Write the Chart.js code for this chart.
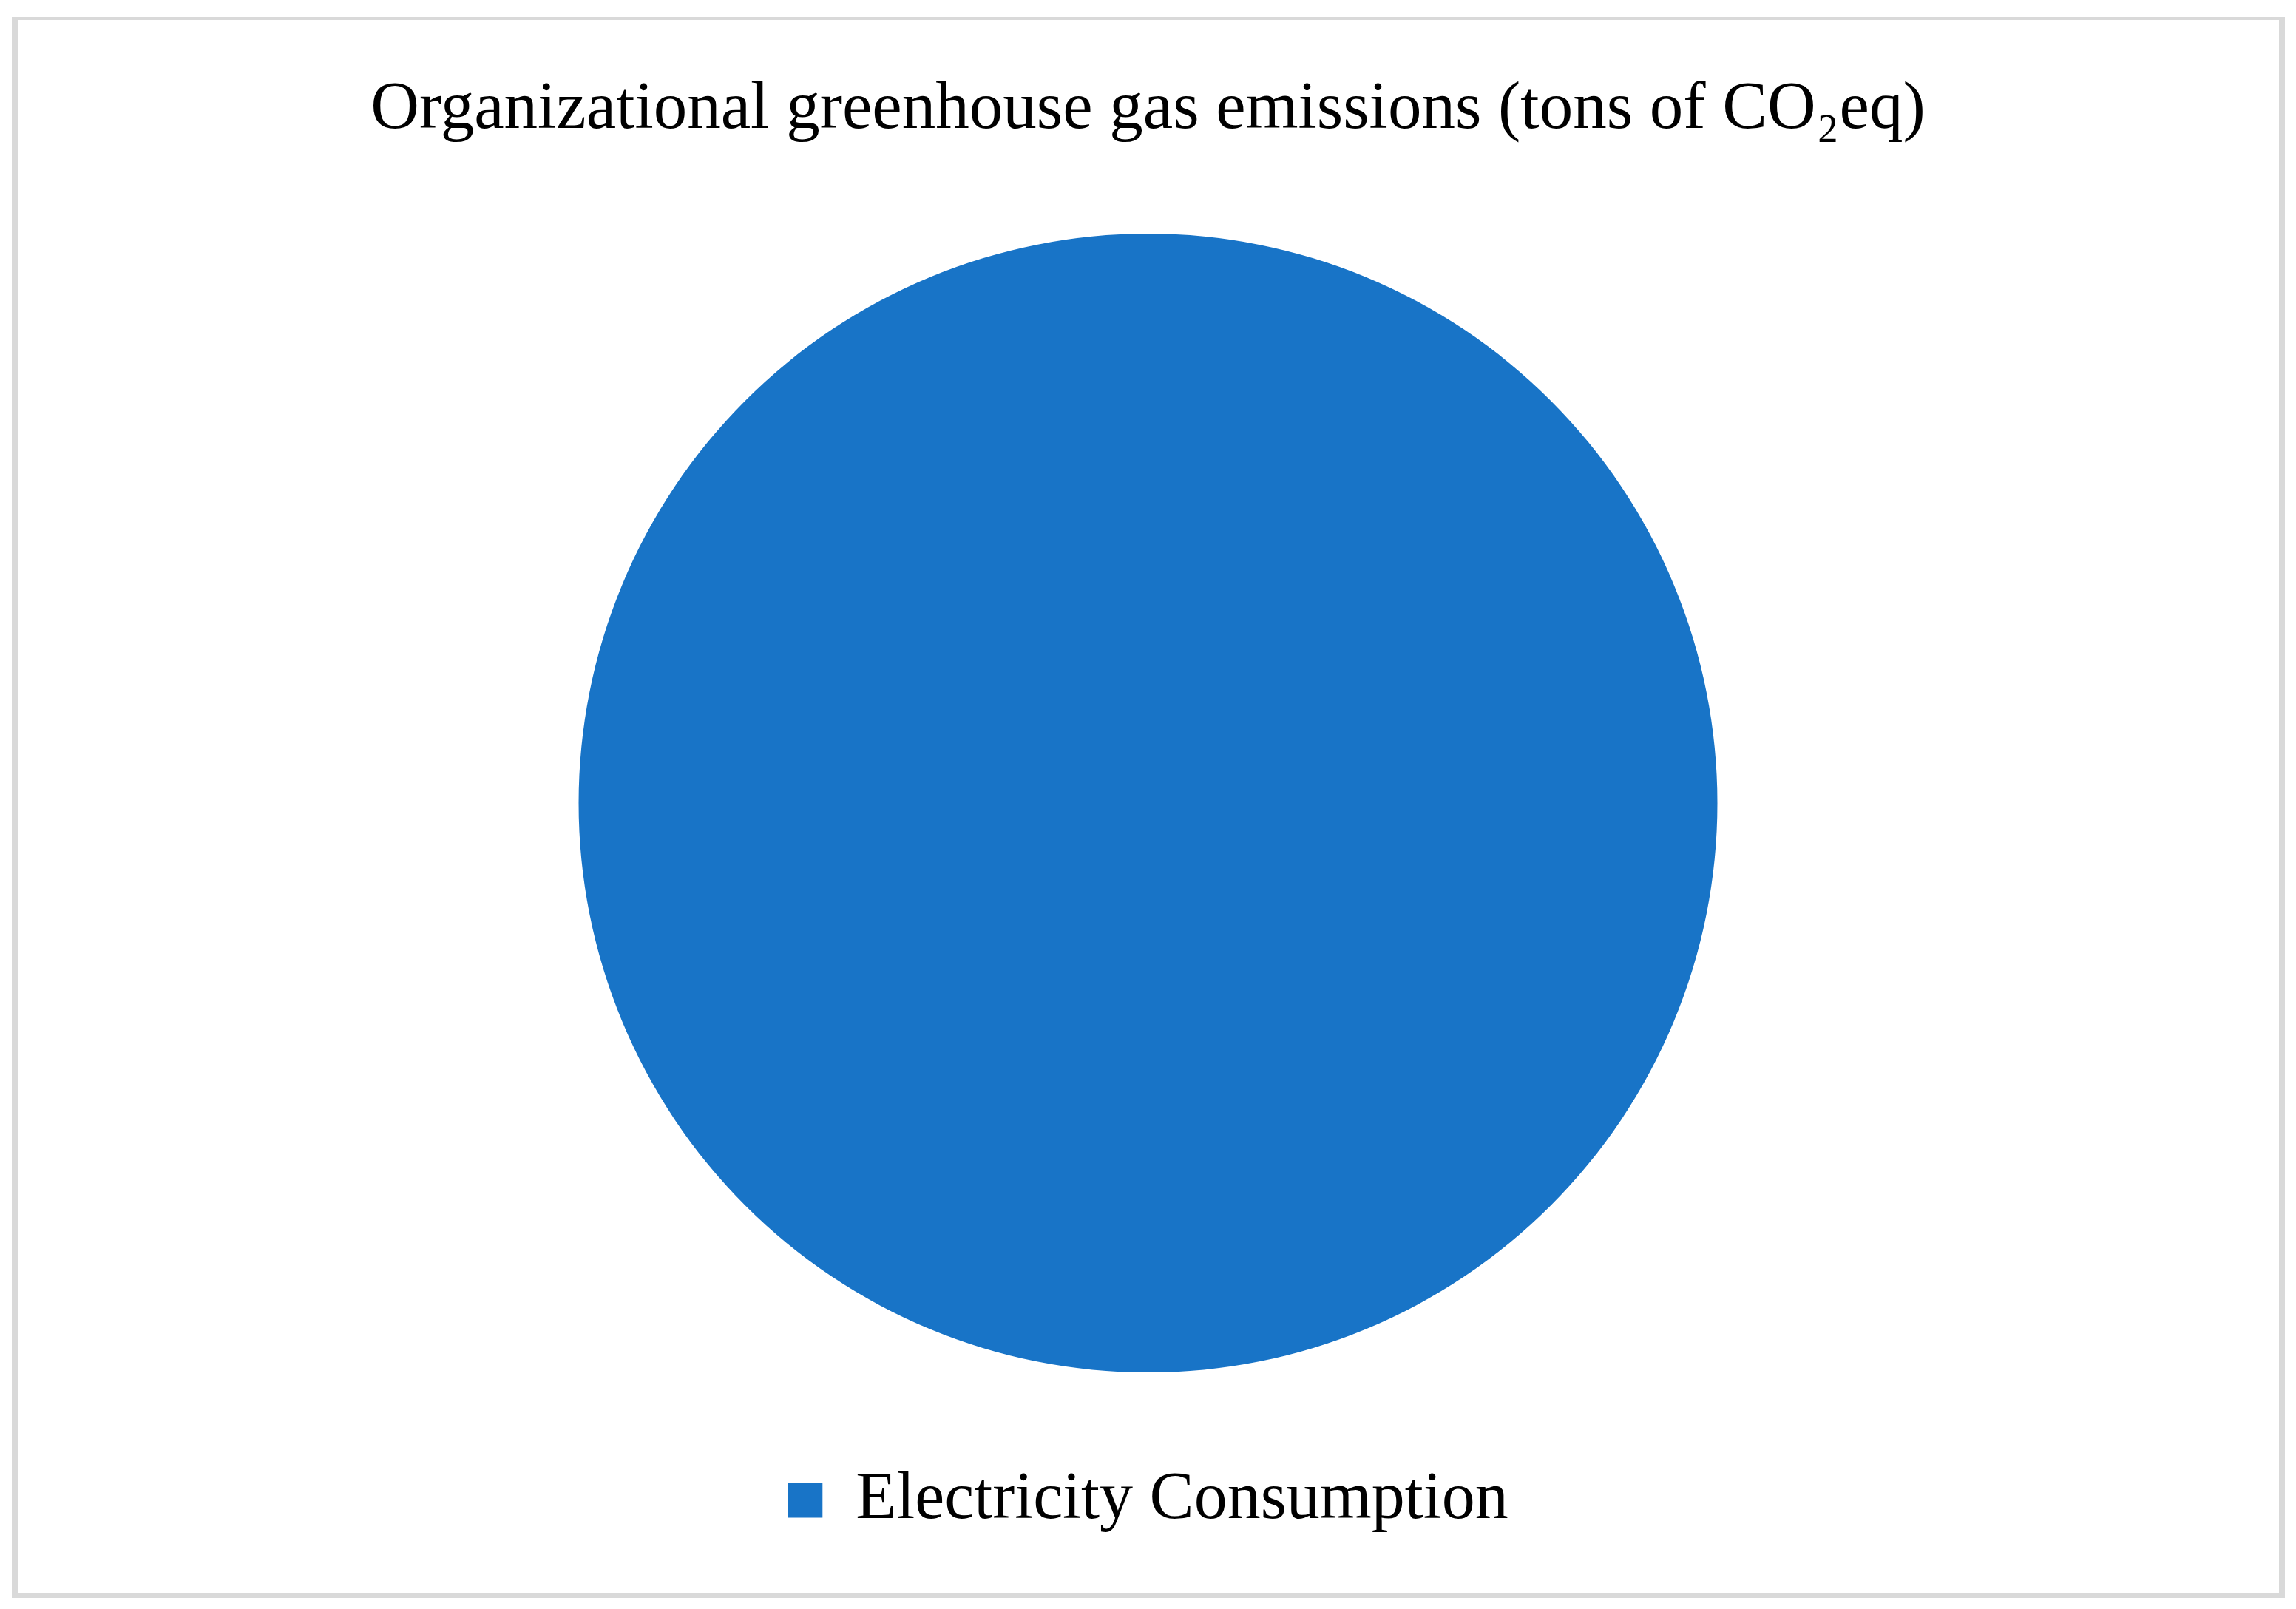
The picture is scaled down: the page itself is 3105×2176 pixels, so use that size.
<!DOCTYPE html>
<html>
<head>
<meta charset="utf-8">
<script src="https://cdn.jsdelivr.net/npm/chart.js@4"></script>
<style>
  html, body { margin: 0; padding: 0; background: #ffffff; }
  #wrap { position: relative; width: 3105px; height: 2176px; }
  canvas { display: block; }
</style>
</head>
<body>
<div id="wrap"><canvas id="c" width="3105" height="2176"></canvas></div>
<script>
const titleText = "Organizational greenhouse gas emissions (tons of CO\u2082eq)";
const categories = ["Electricity Consumption"];
const emissionShares = [100];
const sliceColors = ["#1874c7"];

const frameBorder = {
  id: 'frameBorder',
  beforeDraw(chart) {
    const ctx = chart.ctx;
    ctx.save();
    ctx.fillStyle = '#d9d9d9';
    ctx.fillRect(16, 23, 3074, 4);
    ctx.fillRect(16, 2154, 3074, 7);
    ctx.fillRect(16, 23, 8, 2138);
    ctx.fillRect(3082, 23, 8, 2138);
    ctx.restore();
  }
};

new Chart(document.getElementById('c'), {
  type: 'pie',
  data: {
    labels: categories,
    datasets: [{
      data: emissionShares,
      backgroundColor: sliceColors,
      borderWidth: 0,
      radius: 770
    }]
  },
  options: {
    responsive: false,
    animation: false,
    layout: { padding: { top: 94, bottom: 92, left: 0, right: 0 } },
    plugins: {
      title: {
        display: true,
        text: titleText,
        color: '#000000',
        font: { family: "'Liberation Serif', serif", size: 91, weight: 'normal', lineHeight: 1.2 },
        padding: { top: 0, bottom: 9 }
      },
      legend: {
        display: true,
        position: 'bottom',
        labels: {
          color: '#000000',
          font: { family: "'Liberation Serif', serif", size: 90, weight: 'normal' },
          boxWidth: 47,
          boxHeight: 47,
          padding: 24
        }
      },
      tooltip: { enabled: false }
    }
  },
  plugins: [frameBorder]
});
</script>
</body>
</html>
